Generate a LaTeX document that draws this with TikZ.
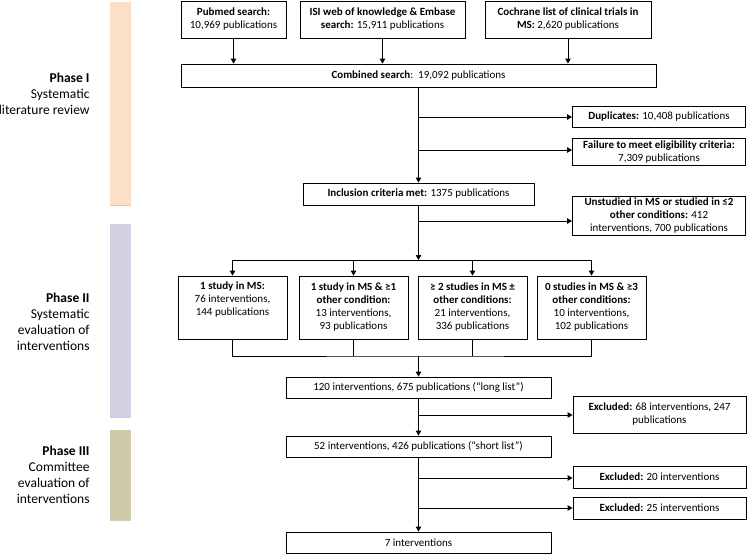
\documentclass[tikz,border=0pt]{standalone}
\usepackage{fontspec}
\setmainfont{Carlito}
\usetikzlibrary{arrows.meta, positioning, calc}

\definecolor{phaseone}{HTML}{FBDFC6}
\definecolor{phasetwo}{HTML}{D5CFE2}
\definecolor{phasethree}{HTML}{CEC9A7}

\begin{document}
\begin{tikzpicture}[
    % one unit = one pixel of the reference, y going down
    x=1pt, y=-1pt,
    box/.style={draw, rectangle, inner sep=0pt, align=center, font=\fontsize{11}{13}\selectfont},
    phase/.style={anchor=east, align=right, inner sep=0pt, font=\fontsize{13.5}{16}\selectfont},
    bar/.style={rectangle, inner sep=0pt, minimum width=21pt},
    line width=0.9pt,
    >={Triangle[length=5pt, width=5.5pt]}
]
    \useasboundingbox (0,0) rectangle (750,554);

    % Phase bars and labels
    \node[bar, fill=phaseone, minimum height=203pt] (bar1) at (120.5,103.5) {};
    \node[bar, fill=phasetwo, minimum height=193pt] (bar2) at (120.5,320.5) {};
    \node[bar, fill=phasethree, minimum height=90pt] (bar3) at (120.5,475) {};
    \foreach \b in {bar1, bar2, bar3}
        \draw[black!20, line width=1.2pt] (\b.south west) -- (\b.south east);

    \node[phase] (ph1) at (90,93.5) {\textbf{Phase I}\\Systematic\\literature review};
    \node[phase] (ph2) at (90,322) {\textbf{Phase II}\\Systematic\\evaluation of\\interventions};
    \node[phase] (ph3) at (90,475) {\textbf{Phase III}\\Committee\\evaluation of\\interventions};

    % Nodes
    \node[box, minimum width=105pt, minimum height=37pt] (pubmed) at (233.5,19.5)
        {\textbf{Pubmed search:}\\10,969 publications};
    \node[box, minimum width=165pt, minimum height=37pt] (isi) at (382.5,19.5)
        {\textbf{ISI web of knowledge \& Embase}\\\textbf{search:} 15,911 publications};
    \node[box, minimum width=166pt, minimum height=37pt] (cochrane) at (568,19.5)
        {\textbf{Cochrane list of clinical trials in}\\\textbf{MS:} 2,620 publications};
    \node[box, minimum width=475pt, minimum height=23pt] (combined) at (418.5,75.5)
        {\textbf{Combined search}:\ \ 19,092 publications};

    \node[box, minimum width=173pt, minimum height=21pt] (dup) at (659,116.5)
        {\textbf{Duplicates:} 10,408 publications};
    \node[box, minimum width=173pt, minimum height=27pt] (fail) at (659,152)
        {\textbf{Failure to meet eligibility criteria:}\\7,309 publications};
    \node[box, minimum width=231pt, minimum height=22pt] (incl) at (418.5,194)
        {\textbf{Inclusion criteria met:} 1375 publications};
    \node[box, minimum width=173pt, minimum height=39pt] (unst) at (659,215.5)
        {\textbf{Unstudied in MS or studied in ≤2}\\\textbf{other conditions:} 412\\interventions, 700 publications};

    \node[box, minimum width=109pt, minimum height=63pt] (s1) at (232.5,307.5)
        {\textbf{1 study in MS:}\\76 interventions,\\144 publications\\\strut};
    \node[box, minimum width=109pt, minimum height=63pt] (s2) at (353.5,307.5)
        {\textbf{1 study in MS \& ≥1}\\\textbf{other condition:}\\13 interventions,\\93 publications};
    \node[box, minimum width=109pt, minimum height=63pt] (s3) at (472.5,307.5)
        {\textbf{≥ 2 studies in MS ±}\\\textbf{other conditions:}\\21 interventions,\\336 publications};
    \node[box, minimum width=109pt, minimum height=63pt] (s4) at (591.5,307.5)
        {\textbf{0 studies in MS \& ≥3}\\\textbf{other conditions:}\\10 interventions,\\102 publications};

    \node[box, minimum width=265pt, minimum height=21pt] (long) at (418.5,387.5)
        {120 interventions, 675 publications (“long list”)};
    \node[box, minimum width=173pt, minimum height=37pt] (ex1) at (659.5,414.5)
        {\textbf{Excluded:} 68 interventions, 247\\publications};
    \node[box, minimum width=265pt, minimum height=21pt] (short) at (418.5,446.5)
        {52 interventions, 426 publications (“short list”)};
    \node[box, minimum width=173pt, minimum height=22pt] (ex2) at (659.5,477)
        {\textbf{Excluded:} 20 interventions};
    \node[box, minimum width=173pt, minimum height=22pt] (ex3) at (659.5,508)
        {\textbf{Excluded:} 25 interventions};
    \node[box, minimum width=265pt, minimum height=21pt] (seven) at (418.5,542.5)
        {7 interventions};

    % Branch points on the main line
    \coordinate (k1) at (418.5,117);
    \coordinate (k2) at (418.5,150);
    \coordinate (k3) at (418.5,221);
    \coordinate (hub) at (418.5,260);
    \coordinate (join) at (418.5,356);
    \coordinate (k4) at (418.5,415);
    \coordinate (k5) at (418.5,478);
    \coordinate (k6) at (418.5,508);

    % Connections
    \foreach \n in {pubmed, isi, cochrane}
        \draw[->] (\n.south) -- (\n.south |- combined.north);
    \draw[->] (combined.south) -- (incl.north);
    \draw[->] (k1) -- (k1 -| dup.west);
    \draw[->] (k2) -- (k2 -| fail.west);
    \draw[->] (incl.south) -- (hub);
    \draw[->] (k3) -- (k3 -| unst.west);
    \draw (s1.north |- hub) -- (s4.north |- hub);
    \foreach \n in {s1, s2, s3, s4}
        \draw[->] (\n.north |- hub) -- (\n.north);
    \draw (s1.south) |- (join) -| (s4.south);
    \draw (s2.south) -- (s2.south |- join);
    \draw (s3.south) -- (s3.south |- join);
    \draw[->] (join) -- (long.north);
    \draw[->] (long.south) -- (short.north);
    \draw[->] (k4) -- (k4 -| ex1.west);
    \draw[->] (short.south) -- (seven.north);
    \draw[->] (k5) -- (k5 -| ex2.west);
    \draw[->] (k6) -- (k6 -| ex3.west);
\end{tikzpicture}
\end{document}
